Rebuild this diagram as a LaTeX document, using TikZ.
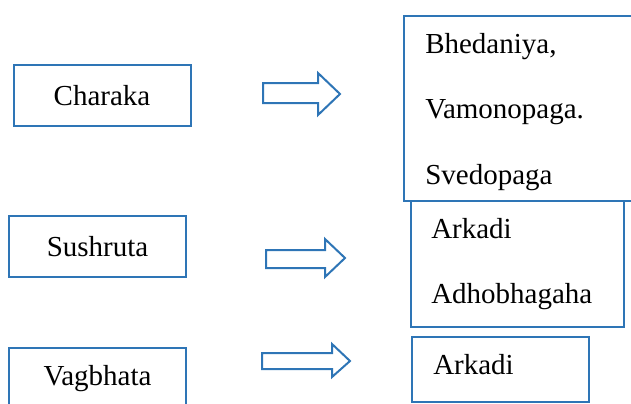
\documentclass[tikz,border=0pt]{standalone}
\usepackage{fontspec}
\setmainfont{Liberation Serif}
\definecolor{figB}{RGB}{46,117,182}

\begin{document}
\begin{tikzpicture}[x=0.75pt, y=-0.75pt,
    namebox/.style={draw=figB, line width=1.5pt, inner sep=0pt,
      minimum width=132.75pt, minimum height=45.75pt,
      font=\fontsize{21.75pt}{26pt}\selectfont},
    listbox/.style={draw=figB, line width=1.5pt, inner sep=0pt, anchor=north west},
    listtext/.style={anchor=north west, inner sep=0pt, align=left,
      font=\fontsize{21.75pt}{49pt}\selectfont},
    blockarrow/.style={draw=figB, line width=1.5pt, line join=miter}]
    \clip (0,0) rectangle (631,403);
    % left column
    \node[namebox] (charaka)  at (102,95.5)  {Charaka};
    \node[namebox] (sushruta) at (97.5,246.5) {Sushruta};
    \node[namebox] (vagbhata) at (97.5,378.5) {Vagbhata};
    % right column
    \node[listbox, minimum width=180pt, minimum height=138.75pt] (charakaList) at (403,15) {};
    \node[listtext] (charakaText) at (425,33) {Bhedaniya,\\Vamonopaga.\\Svedopaga};
    \node[listbox, minimum width=159.75pt, minimum height=94.5pt] (sushrutaList) at (410,200) {};
    \node[listtext] (sushrutaText) at (431,218) {Arkadi\\Adhobhagaha};
    \node[listbox, minimum width=132.75pt, minimum height=48.75pt] (vagbhataList) at (411,336) {};
    \node[listtext] (vagbhataText) at (433,354) {Arkadi};
    % block arrows
    \draw[blockarrow](263,83)--(318,83)--(318,73)--(340,94)--(318,115)--(318,103)--(263,103)--cycle;
    \draw[blockarrow](266,250)--(325,250)--(325,239)--(345,258)--(325,277)--(325,268)--(266,268)--cycle;
    \draw[blockarrow](262,353)--(332,353)--(332,344)--(350,361)--(332,377)--(332,369)--(262,369)--cycle;
\end{tikzpicture}
\end{document}
